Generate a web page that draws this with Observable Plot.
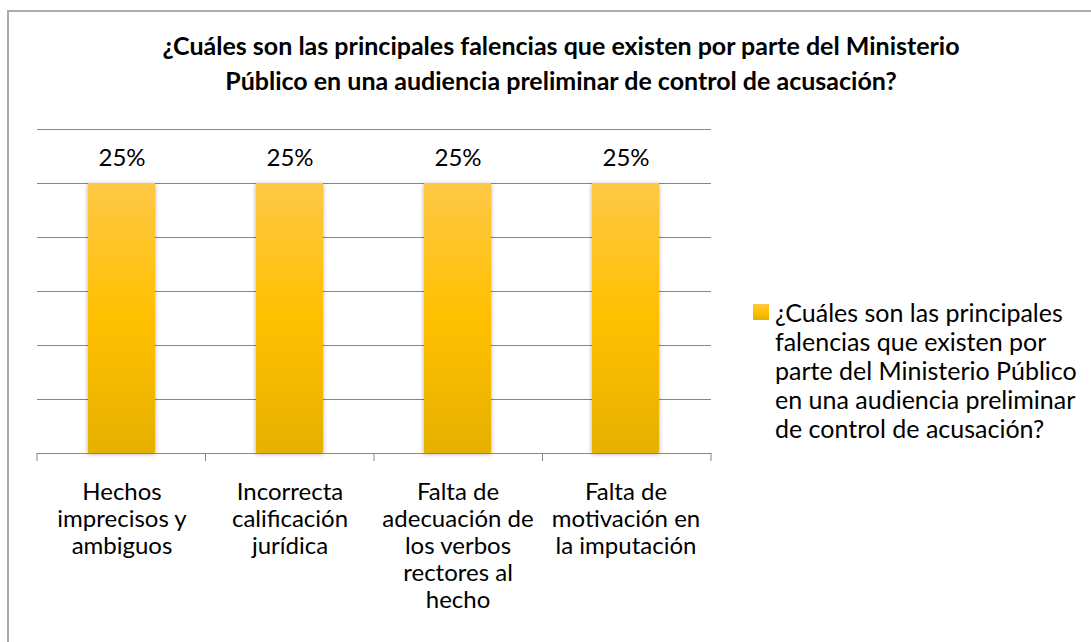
<!DOCTYPE html>
<html>
<head>
<meta charset="utf-8">
<script src="https://cdn.jsdelivr.net/npm/d3@7"></script>
<script src="https://cdn.jsdelivr.net/npm/@observablehq/plot@0.6"></script>
<style>
  html, body { margin: 0; padding: 0; background: #fff; overflow: hidden; }
  #wrap { position: relative; width: 1091px; height: 642px; overflow: hidden; font-family: Lato, "Noto Sans", sans-serif; color: #000; }
  #frame { position: absolute; left: 7px; top: 10px; width: 2000px; height: 2000px; border-top: 2px solid #ababab; border-left: 2px solid #ababab; }
  #title { position: absolute; left: 61px; top: 28px; width: 1000px; text-align: center; font-weight: bold; font-size: 25px; line-height: 35px; }
  #chart { position: absolute; left: 0; top: 110px; }
  #legend { position: absolute; left: 753px; top: 298px; font-size: 25px; line-height: 29px; }
  #legend .sw { position: absolute; left: 0; top: 6px; width: 16px; height: 16px; background: linear-gradient(#ffc846, #ffc000 50%, #e6b000); }
  #legend .txt { position: absolute; left: 22px; top: 0; white-space: nowrap; }
  .bars rect { filter: drop-shadow(0 1px 2px rgba(0,0,0,0.35)); }
</style>
</head>
<body>
<div id="wrap">
  <div id="frame"></div>
  <div id="title"></div>
  <div id="chart"></div>
  <div id="legend"><span class="sw"></span><div class="txt"></div></div>
</div>
<script>
const titleLines = ["¿Cuáles son las principales falencias que existen por parte del Ministerio", "Público en una audiencia preliminar de control de acusación?"];
const seriesName = "¿Cuáles son las principales falencias que existen por parte del Ministerio Público en una audiencia preliminar de control de acusación?";
const legendLines = ["¿Cuáles son las principales", "falencias que existen por", "parte del Ministerio Público", "en una audiencia preliminar", "de control de acusación?"];
const categories = ["Hechos imprecisos y ambiguos", "Incorrecta calificación jurídica", "Falta de adecuación de los verbos rectores al hecho", "Falta de motivación en la imputación"];
const tickLabels = ["Hechos\nimprecisos y\nambiguos", "Incorrecta\ncalificación\njurídica", "Falta de\nadecuación de\nlos verbos\nrectores al\nhecho", "Falta de\nmotivación en\nla imputación"];
const values = [0.25, 0.25, 0.25, 0.25];
const yTicks = [0, 0.05, 0.10, 0.15, 0.20, 0.25, 0.30];

document.getElementById("title").innerHTML = titleLines.join("<br>");
document.querySelector("#legend .txt").innerHTML = legendLines.join("<br>");

const data = categories.map((c, i) => ({category: c, value: values[i]}));
const labelOf = new Map(categories.map((c, i) => [c, tickLabels[i]]));
const NS = "http://www.w3.org/2000/svg";

function gradientDefs() {
  const defs = document.createElementNS(NS, "defs");
  const lg = document.createElementNS(NS, "linearGradient");
  lg.setAttribute("id", "barGrad");
  lg.setAttribute("x1", "0"); lg.setAttribute("y1", "0");
  lg.setAttribute("x2", "0"); lg.setAttribute("y2", "1");
  [["0", "#ffc846"], ["0.5", "#ffc000"], ["1", "#e6b000"]].forEach(([o, c]) => {
    const s = document.createElementNS(NS, "stop");
    s.setAttribute("offset", o); s.setAttribute("stop-color", c);
    lg.appendChild(s);
  });
  defs.appendChild(lg);
  return defs;
}

function boundaryTicks(index, scales, values, dims) {
  const g = document.createElementNS(NS, "g");
  const x0 = dims.marginLeft, x1 = dims.width - dims.marginRight;
  const n = categories.length;
  const yb = dims.height - dims.marginBottom;
  for (let i = 0; i <= n; i++) {
    const x = x0 + (x1 - x0) * i / n;
    const l = document.createElementNS(NS, "line");
    l.setAttribute("x1", x); l.setAttribute("x2", x);
    l.setAttribute("y1", yb); l.setAttribute("y2", yb + 8);
    l.setAttribute("stroke", "#868686");
    g.appendChild(l);
  }
  return g;
}

const chart = Plot.plot({
  width: 740,
  height: 532,
  marginLeft: 37,
  marginRight: 29,
  marginTop: 19,
  marginBottom: 189,
  style: {fontFamily: "Lato, 'Noto Sans', sans-serif", color: "#000", background: "transparent"},
  x: {domain: categories, paddingInner: 0.6, paddingOuter: 0.3, axis: null, label: null},
  y: {domain: [0, 0.30], axis: null},
  marks: [
    gradientDefs,
    Plot.gridY(yTicks, {stroke: "#868686", strokeOpacity: 1}),
    Plot.barY(data, {x: "category", y: "value", fill: "url(#barGrad)", className: "bars"}),
    Plot.ruleY([0], {stroke: "#868686"}),
    boundaryTicks,
    Plot.text(data, {x: "category", y: "value", text: d => d3.format(".0%")(d.value), dy: -25, fontSize: 24, fill: "#000", lineAnchor: "middle"}),
    Plot.axisX({tickSize: 0, tickPadding: 27, tickFormat: d => labelOf.get(d), fontSize: 24, lineHeight: 1.125, fill: "#000", lineAnchor: "top", label: null})
  ]
});
document.getElementById("chart").appendChild(chart);
</script>
</body>
</html>
